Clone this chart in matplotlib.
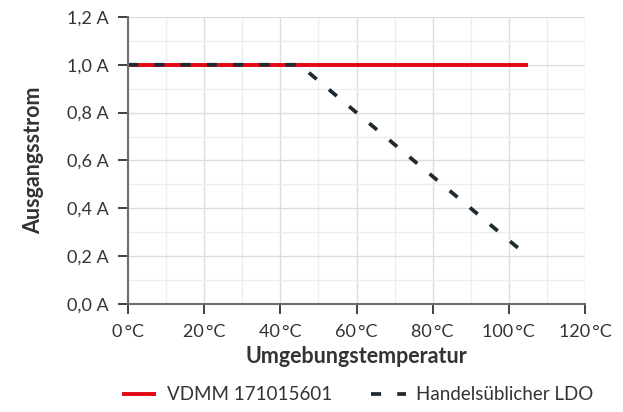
import matplotlib
matplotlib.use("Agg")
import matplotlib.pyplot as plt
from matplotlib.ticker import MultipleLocator, FuncFormatter

# data
vdmm_temp = [0, 105]
vdmm_strom = [1.0, 1.0]
ldo_temp = [0, 45, 105]
ldo_strom = [1.0, 1.0, 0.2]

plt.rcParams['font.family'] = ['Lato', 'DejaVu Sans']
text_col = '#333333'

fig = plt.figure(figsize=(6.23, 4.12), dpi=100)
ax = fig.add_axes([0.2055, 0.262, 0.7335, 0.697])

ax.plot(vdmm_temp, vdmm_strom, color='#e30613', lw=2.8, solid_capstyle='butt',
        label='VDMM 171015601', zorder=3)
ax.plot(ldo_temp, ldo_strom, color='#1f2a30', lw=2.7, dashes=(2.7, 4.3),
        dash_capstyle='butt', label='Handelsüblicher LDO', zorder=4)

ax.set_xlim(0, 120)
ax.set_ylim(0, 1.2)
ax.xaxis.set_major_locator(MultipleLocator(20))
ax.xaxis.set_minor_locator(MultipleLocator(10))
ax.yaxis.set_major_locator(MultipleLocator(0.2))
ax.yaxis.set_minor_locator(MultipleLocator(0.1))
ax.xaxis.set_major_formatter(FuncFormatter(lambda v, p: f"{v:.0f}\u2009°C"))
ax.yaxis.set_major_formatter(FuncFormatter(lambda v, p: f"{v:.1f} A".replace('.', ',')))

ax.grid(which='major', color='#dddddd', lw=1.0)
ax.grid(which='minor', color='#eeeeee', lw=1.0)
ax.set_axisbelow(True)
for s in ['top', 'right']:
    ax.spines[s].set_visible(False)
for s in ['left', 'bottom']:
    ax.spines[s].set_color('#6e6e6e')
    ax.spines[s].set_linewidth(1.5)
    ax.spines[s].set_zorder(5)

ax.tick_params(which='major', length=7, width=1.3, color='#333333',
               labelsize=13, labelcolor=text_col, pad=7)
ax.tick_params(which='minor', length=0)

ax.set_xlabel('Umgebungstemperatur', fontsize=15.5, fontweight='bold',
              color=text_col, labelpad=5)
ax.set_ylabel('Ausgangsstrom', fontsize=15.5, fontweight='bold',
              color=text_col, labelpad=16)

fig.legend(loc='lower center', bbox_to_anchor=(0.574, -0.02), ncol=2,
           frameon=False, fontsize=13.5, handlelength=1.85, handletextpad=0.55,
           columnspacing=2.1, labelcolor=text_col)

fig.savefig('out.png', dpi=100)
